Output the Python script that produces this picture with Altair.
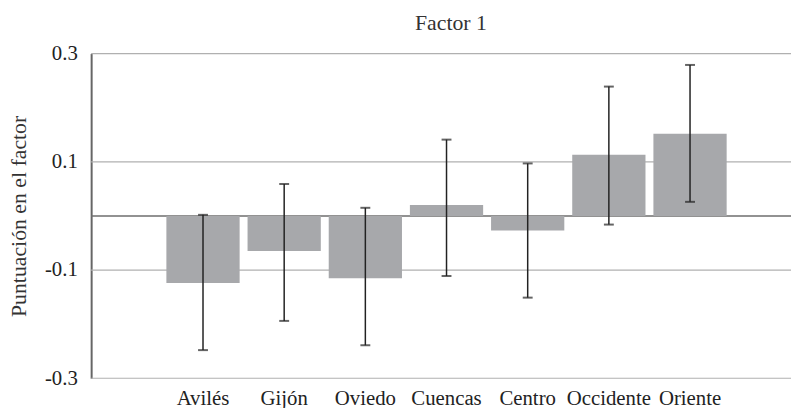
import altair as alt
import pandas as pd

categorias = ["Avilés", "Gijón", "Oviedo", "Cuencas", "Centro", "Occidente", "Oriente"]
puntuacion = [-0.124, -0.065, -0.115, 0.020, -0.027, 0.113, 0.152]
error_bajo = [-0.248, -0.194, -0.239, -0.111, -0.151, -0.016, 0.026]
error_alto = [0.002, 0.059, 0.015, 0.141, 0.097, 0.239, 0.279]
y_ticks = [-0.3, -0.1, 0.1, 0.3]

df = pd.DataFrame({
    "cat": categorias,
    "val": puntuacion,
    "lo": error_bajo,
    "hi": error_alto,
})

FONT = "Liberation Serif"
W, H = 707, 328

xscale = alt.Scale(range=[72, 646], paddingInner=0.0976, paddingOuter=0.0488)
yscale = alt.Scale(domain=[-0.3, 0.3], nice=False)

x_axis = alt.Axis(title=None, labelAngle=0, ticks=False, domain=False, labelPadding=10)
y_axis = alt.Axis(values=y_ticks, title="Puntuación en el factor",
                  labelExpr="datum.value < 0 ? '-' + format(-datum.value, '.1f') : format(datum.value, '.1f')",
                  ticks=False, grid=False,
                  domainColor="#666666", domainWidth=2,
                  labelPadding=14, titlePadding=14)

base = alt.Chart(df)

grid = alt.Chart(pd.DataFrame({"g": y_ticks})).mark_rule(color="#b0b0b0", strokeWidth=1.2).encode(
    y=alt.Y("g:Q", scale=yscale, axis=y_axis)
)

zero = alt.Chart(pd.DataFrame({"z": [0.0]})).mark_rule(color="#6e6e6e", strokeWidth=1.5).encode(
    y=alt.Y("z:Q", scale=yscale, axis=y_axis)
)

bars = base.mark_bar(color="#a7a8ab").encode(
    x=alt.X("cat:N", sort=categorias, scale=xscale, axis=x_axis),
    y=alt.Y("val:Q", scale=yscale, axis=y_axis),
)

err = base.mark_rule(color="#222222", strokeWidth=1.5).encode(
    x=alt.X("cat:N", sort=categorias, scale=xscale, axis=x_axis),
    y=alt.Y("lo:Q", scale=yscale, axis=y_axis),
    y2="hi:Q",
)
cap_lo = base.mark_tick(color="#222222", size=10, thickness=2).encode(
    x=alt.X("cat:N", sort=categorias, scale=xscale, axis=x_axis),
    y=alt.Y("lo:Q", scale=yscale, axis=y_axis),
)
cap_hi = base.mark_tick(color="#222222", size=10, thickness=2).encode(
    x=alt.X("cat:N", sort=categorias, scale=xscale, axis=x_axis),
    y=alt.Y("hi:Q", scale=yscale, axis=y_axis),
)

chart = alt.layer(grid, zero, bars, err, cap_lo, cap_hi).properties(
    width=W, height=H,
    background="white",
    title=alt.TitleParams("Factor 1", dx=10, offset=8),
    autosize=alt.AutoSizeParams(type="none"),
    padding={"left": 84, "top": 44, "right": 0, "bottom": 28},
).configure_view(
    stroke=None
).configure_axis(
    labelFont=FONT, labelFontSize=21, labelColor="#222222",
    titleFont=FONT, titleFontSize=22, titleFontWeight="normal", titleColor="#333333",
).configure_title(
    font=FONT, fontSize=22, fontWeight="normal", color="#333333",
)

chart.save("out.html", embed_options={"renderer": "svg", "actions": False})
